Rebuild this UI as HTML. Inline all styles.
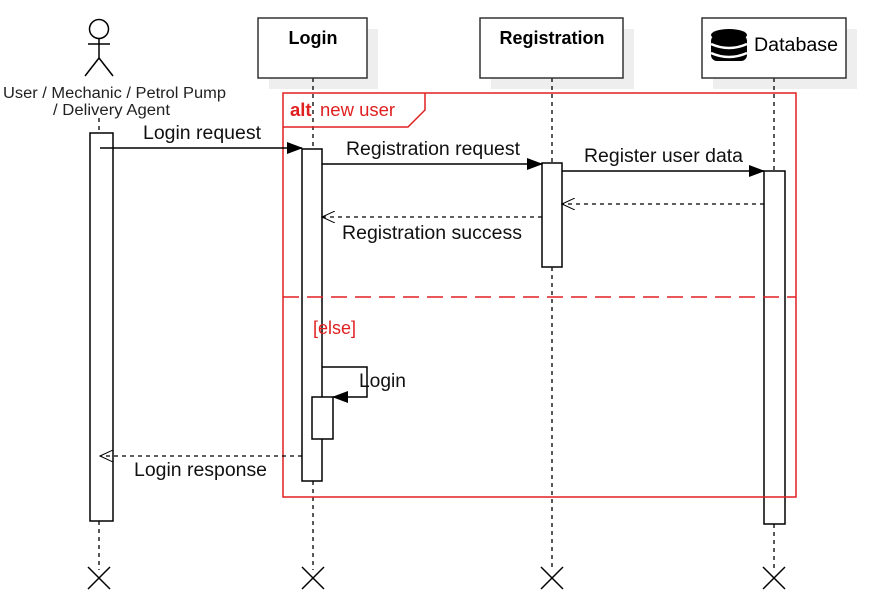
<!DOCTYPE html>
<html><head><style>
html,body{margin:0;padding:0;background:#fff;width:892px;height:607px;overflow:hidden}
svg text{font-family:"Liberation Sans",sans-serif}
</style></head><body>
<svg width="892" height="607" viewBox="0 0 892 607" xmlns="http://www.w3.org/2000/svg">
<defs>
<marker id="fa" markerWidth="16" markerHeight="12" refX="15" refY="6" orient="auto" markerUnits="userSpaceOnUse"><path d="M0,0 L16,6 L0,12 Z" fill="#000"/></marker>
<marker id="oa" markerWidth="14" markerHeight="12" refX="13" refY="6" orient="auto" markerUnits="userSpaceOnUse"><path d="M0,0 L13,6 L0,12" fill="none" stroke="#000" stroke-width="1"/></marker>
</defs>
<rect x="269" y="29" width="109" height="60" fill="#eee"/>
<rect x="491" y="29" width="143" height="60" fill="#eee"/>
<rect x="713" y="29" width="144" height="60" fill="#eee"/>
<g stroke="#000" stroke-width="1.3" stroke-dasharray="4,4" fill="none">
<line x1="99" y1="118" x2="99" y2="133"/><line x1="99" y1="521" x2="99" y2="570"/>
<line x1="313" y1="78" x2="313" y2="149"/><line x1="313" y1="481" x2="313" y2="570"/>
<line x1="552" y1="78" x2="552" y2="163"/><line x1="552" y1="267" x2="552" y2="570"/>
<line x1="774" y1="78" x2="774" y2="171"/><line x1="774" y1="524" x2="774" y2="570"/>
</g>
<g fill="#fff" stroke="#333" stroke-width="1.5">
<rect x="258" y="18" width="109" height="60"/>
<rect x="480" y="18" width="143" height="60"/>
<rect x="702" y="18" width="144" height="60"/>
</g>
<text x="313" y="44" text-anchor="middle" font-size="18" font-weight="bold">Login</text>
<text x="552" y="44" text-anchor="middle" font-size="18" font-weight="bold">Registration</text>
<g fill="#000"><ellipse cx="729" cy="35" rx="18" ry="6"/><rect x="711" y="35" width="36" height="26" rx="6"/></g>
<g stroke="#fff" stroke-width="2.5" fill="none"><path d="M711,44 Q729,52 747,44"/><path d="M711,53 Q729,61 747,53"/></g>
<text x="754" y="51" font-size="19" textLength="84" lengthAdjust="spacingAndGlyphs">Database</text>
<g stroke="#000" stroke-width="1.5" fill="none">
<circle cx="99" cy="29" r="9.5"/><line x1="99" y1="38" x2="99" y2="58"/><line x1="88" y1="44" x2="110" y2="44"/>
<line x1="99" y1="58" x2="85" y2="76"/><line x1="99" y1="58" x2="113" y2="76"/>
</g>
<text x="3" y="98" font-size="15.5" fill="#222" textLength="223" lengthAdjust="spacingAndGlyphs">User / Mechanic / Petrol Pump</text>
<text x="53" y="115" font-size="15.5" fill="#222" textLength="117" lengthAdjust="spacingAndGlyphs">/ Delivery Agent</text>
<g fill="#fff" stroke="#000" stroke-width="1.5">
<rect x="90" y="133" width="23" height="388"/>
<rect x="302" y="149" width="20" height="332"/>
<rect x="542" y="163" width="20" height="104"/>
<rect x="764" y="171" width="21" height="353"/>
<rect x="312" y="397" width="21" height="42"/>
</g>
<g stroke="#e02020" stroke-width="1.5" fill="none">
<rect x="283" y="93" width="513" height="404"/>
<path d="M283,127 L408,127 L425,110 L425,93"/>
<line x1="283" y1="297" x2="796" y2="297" stroke-dasharray="16,8"/>
</g>
<text x="290" y="116" font-size="18.5" fill="#e02020"><tspan font-weight="bold">alt</tspan><tspan x="320">new user</tspan></text>
<text x="313" y="334" font-size="18" fill="#e02020">[else]</text>
<g stroke="#000" stroke-width="1.5" fill="none">
<line x1="100" y1="148" x2="302" y2="148" marker-end="url(#fa)"/>
<line x1="322" y1="164" x2="542" y2="164" marker-end="url(#fa)"/>
<line x1="562" y1="171" x2="764" y2="171" marker-end="url(#fa)"/>
<path d="M322,367 L367,367 L367,397 L333,397" marker-end="url(#fa)"/>
</g>
<g stroke="#000" stroke-width="1.3" fill="none" stroke-dasharray="4,4">
<line x1="764" y1="204" x2="562" y2="204" marker-end="url(#oa)"/>
<line x1="542" y1="217" x2="322" y2="217" marker-end="url(#oa)"/>
<line x1="302" y1="456" x2="100" y2="456" marker-end="url(#oa)"/>
</g>
<g font-size="19" fill="#111">
<text x="143" y="139" textLength="118" lengthAdjust="spacingAndGlyphs">Login request</text>
<text x="346" y="155" textLength="174" lengthAdjust="spacingAndGlyphs">Registration request</text>
<text x="584" y="162" textLength="159" lengthAdjust="spacingAndGlyphs">Register user data</text>
<text x="342" y="239" textLength="180" lengthAdjust="spacingAndGlyphs">Registration success</text>
<text x="359" y="387" textLength="47" lengthAdjust="spacingAndGlyphs">Login</text>
<text x="134" y="476" textLength="133" lengthAdjust="spacingAndGlyphs">Login response</text>
</g>
<g stroke="#000" stroke-width="1.5">
<path d="M88,567 L110,589 M110,567 L88,589"/>
<path d="M302,567 L324,589 M324,567 L302,589"/>
<path d="M541,567 L563,589 M563,567 L541,589"/>
<path d="M763,567 L785,589 M785,567 L763,589"/>
</g>
</svg>
</body></html>
